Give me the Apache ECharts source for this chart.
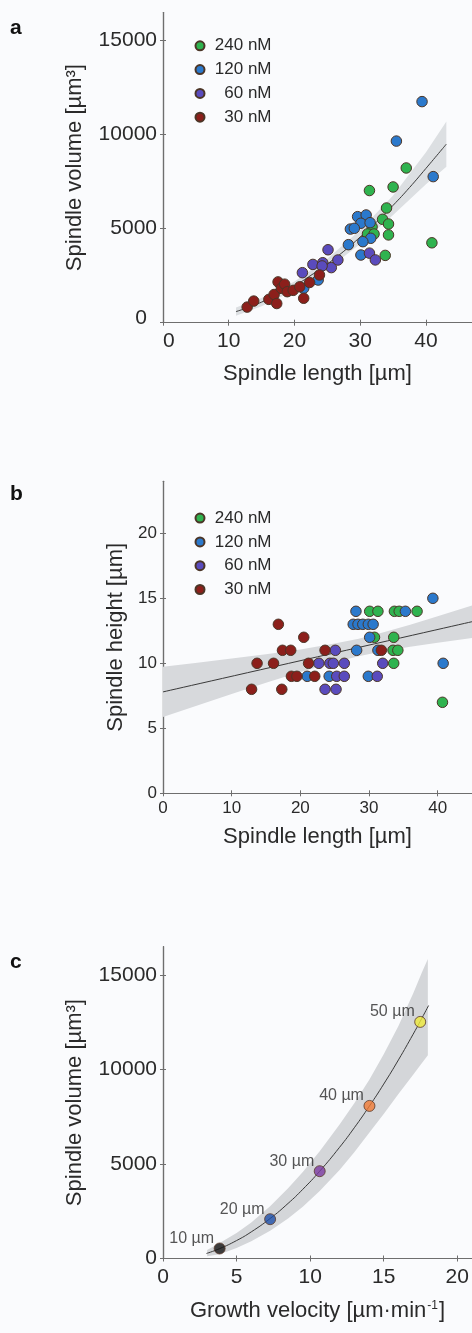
<!DOCTYPE html>
<html><head><meta charset="utf-8">
<script src="https://cdn.jsdelivr.net/npm/echarts@6.0.0/dist/echarts.min.js"></script>
<style>html,body{margin:0;padding:0;background:#fafbfd}#c{width:472px;height:1333px}</style>
</head><body><div id="c"></div>
<script>
const FONT = '"Liberation Sans", Arial, Helvetica, sans-serif';

// ---------- shared ----------
const concLabels = ['240 nM', '120 nM', '60 nM', '30 nM'];
const concColors = ['#2fb34f', '#2b79cc', '#5a4bbd', '#8c1f1b'];

// ---------- panel a : spindle length vs volume ----------
const a240 = [[31.4,7030],[35.0,7220],[37.0,8230],[34.0,6100],[33.4,5500],[34.3,5250],[34.3,4670],[33.8,3580],[40.9,4250],[31.8,5100],[31.1,4720],[32.1,4720]];
const a120 = [[39.4,11760],[35.5,9660],[41.1,7770],[29.6,5640],[30.9,5730],[30.1,5290],[31.5,5320],[28.5,4980],[29.1,5020],[31.6,4490],[30.4,4310],[28.2,4150],[30.1,3600],[23.6,2270],[21.4,1830]];
const a60 = [[21.2,2660],[22.8,3100],[25.1,3880],[24.3,3190],[25.6,2930],[26.6,3335],[31.4,3700],[32.3,3340],[24.2,3020]];
const a30 = [[12.8,830],[13.8,1150],[16.1,1240],[16.9,1500],[17.3,1020],[17.5,2170],[18.0,1830],[18.5,2050],[18.9,1650],[19.8,1720],[20.8,1910],[21.4,1300],[22.3,2140],[23.8,2540]];
const aFitLength = [11.1, 13, 15, 17.5, 20, 22.5, 25, 27.5, 30, 32.5, 35, 37.5, 40, 43.1];
const aFitVolume = [590, 816, 1096, 1503, 1960, 2520, 3125, 3800, 4560, 5362, 6244, 7190, 8210, 9500];
const aBandLength = [11.1, 15, 20, 25, 30, 35, 40, 43.1];
const aBandLow  = [370, 876, 1730, 2845, 4190, 5724, 7360, 8300];
const aBandHigh = [810, 1316, 2190, 3405, 4930, 6764, 9060, 10700];
const aXTicks = [0, 10, 20, 30, 40];
const aYTicks = [0, 5000, 10000, 15000];

// ---------- panel b : spindle length vs height ----------
const b240 = [[30.1,14],[31.3,14],[33.7,14],[34.4,14],[37.0,14],[30.8,12],[33.6,12],[33.5,11],[34.2,11],[33.6,10],[40.7,7]];
const b120 = [[39.3,15],[28.1,14],[35.3,14],[27.7,13],[28.4,13],[29.1,13],[29.9,13],[30.6,13],[30.1,12],[28.2,11],[31.3,11],[40.8,10],[21.0,9],[24.2,9],[29.9,9]];
const b60 = [[25.1,11],[22.7,10],[24.3,10],[24.8,10],[26.4,10],[32.0,10],[25.3,9],[26.4,9],[31.2,9],[23.6,8],[25.2,8]];
const b30 = [[16.8,13],[20.5,12],[17.4,11],[18.6,11],[23.6,11],[31.8,11],[13.7,10],[16.1,10],[21.2,10],[18.7,9],[19.5,9],[22.1,9],[12.9,8],[17.3,8]];
const bFitLength = [0, 45];
const bFitHeight = [7.8, 13.2];
const bBandLength = [0, 5, 10, 15, 20, 25, 28.5, 32, 36, 40, 45];
const bBandLow  = [5.87, 6.76, 7.63, 8.50, 9.33, 10.08, 10.55, 10.92, 11.27, 11.58, 11.95];
const bBandHigh = [9.73, 10.04, 10.37, 10.70, 11.07, 11.52, 11.89, 12.36, 12.97, 13.62, 14.45];
const bXTicks = [0, 10, 20, 30, 40];
const bYTicks = [0, 5, 10, 15, 20];

// ---------- panel c : growth velocity vs volume ----------
const cLabels = ['10 µm', '20 µm', '30 µm', '40 µm', '50 µm'];
const cVelocity = [3.85, 7.28, 10.65, 14.03, 17.48];
const cVolume = [530, 2080, 4620, 8075, 12520];
const cColors = ['#151515', '#1d4fa8', '#7a3aa0', '#f07a35', '#eeea3a'];
const cFitVelocity = [2.95, 3.85, 5, 6, 7.28, 8.5, 9.5, 10.65, 12, 13, 14.03, 15, 16, 17, 17.48, 18.05];
const cFitVolume = [265, 523, 950, 1409, 2116, 2915, 3661, 4620, 5885, 6918, 8070, 9230, 10509, 11870, 12552, 13387];
const cBandVelocity = [3.0, 3.85, 5, 6, 7.28, 8.5, 9.5, 10.65, 12, 13, 14.03, 15, 16, 17, 17.6, 18.0];
const cBandLow  = [115, 223, 550, 909, 1466, 2115, 2741, 3570, 4685, 5618, 6670, 7650, 8709, 9720, 10350, 10750];
const cBandHigh = [455, 823, 1350, 1909, 2766, 3715, 4581, 5670, 7085, 8218, 9470, 10810, 12309, 14020, 15150, 15850];
const cXTicks = [0, 5, 10, 15, 20];
const cYTicks = [0, 5000, 10000, 15000];

// ---------- helpers ----------
const AXIS_COLOR = '#6e6e6e';
const TEXT_COLOR = '#2a2a2a';
const plain = v => String(v);

function xPair(gi, max, ticks, fs, margin, name, nameGap, labelExtra) {
  const bottom = {
    type: 'value', gridIndex: gi, position: 'bottom', min: 0, max: max,
    axisLine: { show: true, lineStyle: { color: AXIS_COLOR, width: 1.2 } },
    axisTick: { show: true, inside: true, length: 3, customValues: ticks, lineStyle: { color: AXIS_COLOR } },
    axisLabel: Object.assign({ show: true, customValues: ticks, fontSize: fs, fontFamily: FONT, color: TEXT_COLOR, margin: margin, formatter: plain }, labelExtra || {}),
    splitLine: { show: false },
    name: name, nameLocation: 'middle', nameGap: nameGap,
    nameTextStyle: { fontSize: 22, fontFamily: FONT, color: TEXT_COLOR }
  };
  const top = {
    type: 'value', gridIndex: gi, position: 'top', min: 0, max: max,
    axisLine: { show: true, lineStyle: { color: AXIS_COLOR, width: 1.2 } },
    axisTick: { show: true, inside: true, length: 3, customValues: ticks, lineStyle: { color: AXIS_COLOR } },
    axisLabel: { show: false }, splitLine: { show: false }
  };
  return [bottom, top];
}
function yPair(gi, max, ticks, fs, name, nameGap, labelExtra) {
  const left = {
    type: 'value', gridIndex: gi, position: 'left', min: 0, max: max,
    axisLine: { show: true, lineStyle: { color: AXIS_COLOR, width: 1.2 } },
    axisTick: { show: true, inside: true, length: 3, customValues: ticks, lineStyle: { color: AXIS_COLOR } },
    axisLabel: Object.assign({ show: true, customValues: ticks, fontSize: fs, fontFamily: FONT, color: TEXT_COLOR, margin: 6, formatter: plain }, labelExtra || {}),
    splitLine: { show: false },
    name: name, nameLocation: 'middle', nameGap: nameGap,
    nameTextStyle: { fontSize: 22, fontFamily: FONT, color: TEXT_COLOR }
  };
  const right = {
    type: 'value', gridIndex: gi, position: 'right', min: 0, max: max,
    axisLine: { show: true, lineStyle: { color: AXIS_COLOR, width: 1.2 } },
    axisTick: { show: true, inside: true, length: 3, customValues: ticks, lineStyle: { color: AXIS_COLOR } },
    axisLabel: { show: false }, splitLine: { show: false }
  };
  return [left, right];
}
function scatter(name, data, color, axis) {
  return {
    type: 'scatter', name: name, xAxisIndex: axis, yAxisIndex: axis, data: data,
    symbol: 'circle', symbolSize: 10.5, z: 5,
    itemStyle: { color: color, borderColor: '#4b3527', borderWidth: 1, opacity: 1 }
  };
}
function fitLine(xs, ys, axis, z) {
  return {
    type: 'line', xAxisIndex: axis, yAxisIndex: axis, data: xs.map((x, i) => [x, ys[i]]),
    smooth: true, showSymbol: false, symbol: 'none', z: z, silent: true, clip: true,
    lineStyle: { color: '#3a3a3a', width: 1 }
  };
}
function band(xs, lo, hi, axis, fill) {
  return {
    type: 'custom', xAxisIndex: axis, yAxisIndex: axis, silent: true, clip: true, z: 1,
    data: xs.map((x, i) => [x, lo[i], hi[i]]),
    encode: { x: 0, y: [1, 2] },
    renderItem: function (params, api) {
      if (params.dataIndex !== 0) return null;
      const pts = [];
      for (let i = 0; i < xs.length; i++) pts.push(api.coord([xs[i], hi[i]]));
      for (let i = xs.length - 1; i >= 0; i--) pts.push(api.coord([xs[i], lo[i]]));
      return { type: 'polygon', shape: { points: pts }, style: { fill: fill } };
    }
  };
}
function legendAt(top) {
  return {
    data: concLabels, orient: 'vertical', left: 189.5, top: top,
    itemWidth: 9, itemHeight: 9, itemGap: 6.8, icon: 'circle', selectedMode: false,
    formatter: n => '{t|' + n + '}',
    textStyle: { rich: { t: { width: 62, align: 'right', fontSize: 17, fontFamily: FONT, color: TEXT_COLOR, lineHeight: 14 } } }
  };
}

const ax = xPair(0, 47, aXTicks, 21, 8, 'Spindle length [µm]', 40, { alignMinLabel: 'left' });
const ay = yPair(0, 16500, aYTicks, 21, 'Spindle volume [µm³]', 77, {
  formatter: v => v === 0 ? '{z|0}' : String(v),
  rich: { z: { fontSize: 21, fontFamily: FONT, color: TEXT_COLOR, padding: [0, 10, 8, 0] } }
});
const bx = xPair(1, 45, bXTicks, 17, 7, 'Spindle length [µm]', 33);
const by = yPair(1, 24, bYTicks, 17, 'Spindle height [µm]', 36);
const cx = xPair(2, 21, cXTicks, 21, 8, 'Growth velocity [µm·min{sup|-1}]', 41);
cx[0].nameTextStyle.rich = { sup: { fontSize: 12, fontFamily: FONT, color: TEXT_COLOR, verticalAlign: 'top', padding: [0, 1, 8, 1] } };
const cy = yPair(2, 16500, cYTicks, 21, 'Spindle volume [µm³]', 77);

const option = {
  backgroundColor: '#fafbfd',
  animation: false,
  textStyle: { fontFamily: FONT },
  grid: [
    { left: 163, top: 12.5, width: 310.2, height: 310.2 },
    { left: 163, top: 481.3, width: 311.9, height: 312 },
    { left: 163, top: 946.7, width: 310.8, height: 311.8 }
  ],
  xAxis: [ax[0], ax[1], bx[0], bx[1], cx[0], cx[1]],
  yAxis: [ay[0], ay[1], by[0], by[1], cy[0], cy[1]],
  legend: [legendAt(32.3), legendAt(504.6)],
  graphic: [
    { type: 'text', left: 10, top: 18, style: { text: 'a', font: 'bold 21px ' + FONT, fill: '#111' } },
    { type: 'text', left: 10, top: 484, style: { text: 'b', font: 'bold 21px ' + FONT, fill: '#111' } },
    { type: 'text', left: 10, top: 952, style: { text: 'c', font: 'bold 21px ' + FONT, fill: '#111' } }
  ],
  series: [
    band(aBandLength, aBandLow, aBandHigh, 0, '#dcdfe2'),
    fitLine(aFitLength, aFitVolume, 0, 2),
    scatter(concLabels[0], a240, concColors[0], 0),
    scatter(concLabels[1], a120, concColors[1], 0),
    scatter(concLabels[2], a60, concColors[2], 0),
    scatter(concLabels[3], a30, concColors[3], 0),

    band(bBandLength, bBandLow, bBandHigh, 2, '#d7d9dc'),
    fitLine(bFitLength, bFitHeight, 2, 2),
    scatter(concLabels[0], b240, concColors[0], 2),
    scatter(concLabels[1], b120, concColors[1], 2),
    scatter(concLabels[2], b60, concColors[2], 2),
    scatter(concLabels[3], b30, concColors[3], 2),

    band(cBandVelocity, cBandLow, cBandHigh, 4, '#d4d6d9'),
    fitLine(cFitVelocity, cFitVolume, 4, 3),
    {
      type: 'scatter', xAxisIndex: 4, yAxisIndex: 4, symbol: 'circle', symbolSize: 11, z: 5,
      data: cVelocity.map((v, i) => ({ value: [v, cVolume[i]], itemStyle: { color: cColors[i] } })),
      itemStyle: { borderColor: '#5a3a2a', borderWidth: 1 },
      label: { show: true, position: 'left', distance: 0, offset: [0.5, -10],
        formatter: p => cLabels[p.dataIndex], fontSize: 16, fontFamily: FONT, color: TEXT_COLOR }
    }
  ]
};
const chart = echarts.init(document.getElementById('c'), null, { renderer: 'canvas' });
chart.setOption(option);
</script></body></html>
